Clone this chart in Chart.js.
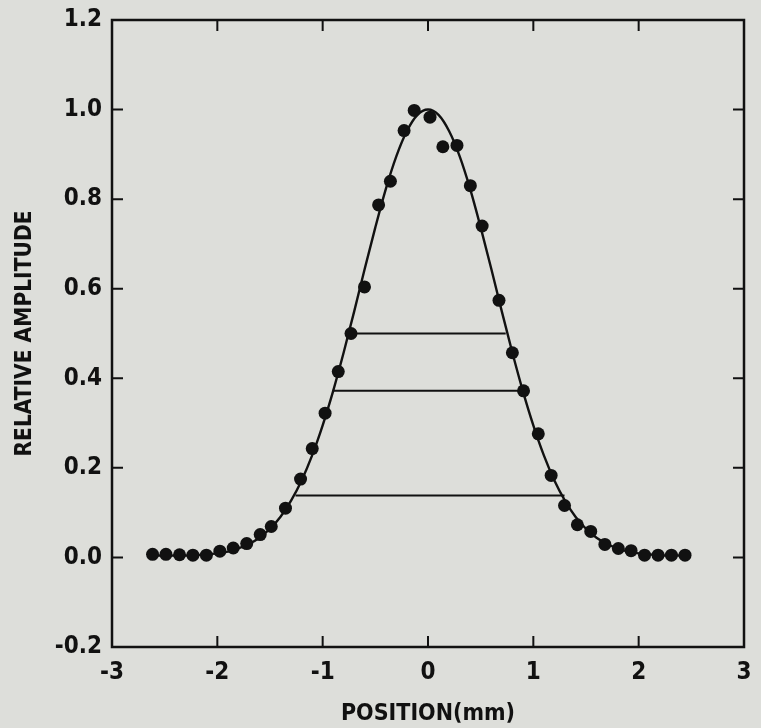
<!DOCTYPE html>
<html>
<head>
<meta charset="utf-8">
<script src="https://cdn.jsdelivr.net/npm/chart.js@4.4.1/dist/chart.umd.min.js"></script>
<style>
  html, body { margin: 0; padding: 0; background: #dddeda; }
  #wrap { width: 761px; height: 728px; }
</style>
</head>
<body>
<div id="wrap"><canvas id="mycanvas" width="761" height="728"></canvas></div>
<script>
// measured points
var dotX = [-2.615, -2.488, -2.359, -2.232, -2.104, -1.976, -1.849, -1.721, -1.593, -1.488,
            -1.353, -1.21, -1.099, -0.977, -0.852, -0.731, -0.603, -0.469, -0.357, -0.227,
            -0.131, 0.019, 0.141, 0.275, 0.402, 0.514, 0.674, 0.801, 0.907, 1.047,
            1.169, 1.296, 1.418, 1.545, 1.679, 1.807, 1.928, 2.056, 2.184, 2.311, 2.44];
var dotY = [0.007, 0.007, 0.006, 0.005, 0.005, 0.014, 0.021, 0.031, 0.051, 0.069,
            0.110, 0.175, 0.243, 0.322, 0.415, 0.500, 0.604, 0.787, 0.840, 0.953,
            0.998, 0.983, 0.917, 0.920, 0.830, 0.740, 0.574, 0.457, 0.372, 0.276,
            0.183, 0.116, 0.073, 0.058, 0.029, 0.020, 0.015, 0.005, 0.005, 0.005, 0.005];

// fitted curve
var curveX = [-2.6, -2.4, -2.2, -2.0, -1.9, -1.8, -1.7, -1.6, -1.5, -1.4, -1.3, -1.2, -1.1, -1.0,
              -0.9, -0.8, -0.7, -0.6, -0.5, -0.4, -0.3, -0.2, -0.1, 0.0, 0.1, 0.2, 0.3, 0.4,
              0.5, 0.6, 0.7, 0.8, 0.9, 1.0, 1.1, 1.2, 1.3, 1.4, 1.5, 1.6, 1.7, 1.8, 1.9, 2.0,
              2.2, 2.45];
var curveY = [0.004, 0.004, 0.005, 0.009, 0.013, 0.020, 0.030, 0.044, 0.064, 0.091, 0.127, 0.172, 0.228, 0.295,
              0.372, 0.458, 0.550, 0.645, 0.737, 0.823, 0.896, 0.952, 0.988, 1.000, 0.988, 0.952, 0.896, 0.823,
              0.737, 0.645, 0.550, 0.458, 0.372, 0.295, 0.228, 0.172, 0.127, 0.091, 0.064, 0.044, 0.030, 0.020, 0.013, 0.009,
              0.005, 0.004];

// horizontal width markers
var levelY = [0.500, 0.372, 0.138];
var levelLeft = [-0.735, -0.907, -1.258];
var levelRight = [0.738, 0.907, 1.296];

var xTicks = [-3, -2, -1, 0, 1, 2, 3];
var yTicks = [-0.2, 0.0, 0.2, 0.4, 0.6, 0.8, 1.0, 1.2];

var fontFam = "'DejaVu Sans Condensed', 'Liberation Sans Narrow', Arial, sans-serif";

var datasets = [];
datasets.push({
	label: "data",
	data: dotX.map(function(x, i){ return {x: x, y: dotY[i]}; }),
	showLine: false,
	pointRadius: 6.5,
	pointBackgroundColor: "#111",
	pointBorderWidth: 0,
	order: 0
});
datasets.push({
	label: "fit",
	data: curveX.map(function(x, i){ return {x: x, y: curveY[i]}; }),
	showLine: true,
	pointRadius: 0,
	borderColor: "#111",
	borderWidth: 2.4,
	cubicInterpolationMode: "monotone",
	order: 1
});
for (var i = 0; i < levelY.length; i++) {
	datasets.push({
		label: "level" + i,
		data: [{x: levelLeft[i], y: levelY[i]}, {x: levelRight[i], y: levelY[i]}],
		showLine: true,
		pointRadius: 0,
		borderColor: "#111",
		borderWidth: 2,
		order: 1
	});
}

// frame + inward ticks on all four sides
var frameTicks = {
	id: "frameTicks",
	afterDatasetsDraw: function(chart) {
		var c = chart.ctx, a = chart.chartArea;
		var xs = chart.scales.x, ys = chart.scales.y;
		var len = 11;
		c.save();
		c.strokeStyle = "#111";
		c.lineWidth = 2.5;
		c.strokeRect(a.left, a.top, a.right - a.left, a.bottom - a.top);
		c.lineWidth = 2;
		c.beginPath();
		xTicks.forEach(function(v, k){
			if (k === 0 || k === xTicks.length - 1) return;
			var px = xs.getPixelForValue(v);
			c.moveTo(px, a.bottom); c.lineTo(px, a.bottom - len);
			c.moveTo(px, a.top); c.lineTo(px, a.top + len);
		});
		yTicks.forEach(function(v, k){
			if (k === 0 || k === yTicks.length - 1) return;
			var py = ys.getPixelForValue(v);
			c.moveTo(a.left, py); c.lineTo(a.left + len, py);
			c.moveTo(a.right, py); c.lineTo(a.right - len, py);
		});
		c.stroke();
		c.restore();
	}
};

var ctx = document.getElementById("mycanvas");
var chart = new Chart(ctx, {
	type: "scatter",
	data: { datasets: datasets },
	plugins: [frameTicks],
	options: {
		responsive: false,
		animation: false,
		layout: { padding: { left: 0, right: 17, top: 20, bottom: 0 } },
		plugins: { legend: { display: false }, tooltip: { enabled: false } },
		scales: {
			x: {
				type: "linear",
				min: -3, max: 3,
				afterBuildTicks: function(s){ s.ticks = xTicks.map(function(v){ return {value: v}; }); },
				afterFit: function(s){ s.height = 81; s.paddingLeft = 0; s.paddingRight = 0; },
				grid: { display: false, drawTicks: false },
				border: { display: false },
				ticks: {
					color: "#111",
					padding: 11,
					font: { family: fontFam, size: 24, weight: "bold" },
					callback: function(v){ return String(v); }
				},
				title: {
					display: true,
					text: "POSITION(mm)",
					color: "#111",
					padding: { top: 4, bottom: 0 },
					font: { family: fontFam, size: 23, weight: "bold" }
				}
			},
			y: {
				type: "linear",
				min: -0.2, max: 1.2,
				afterBuildTicks: function(s){ s.ticks = yTicks.map(function(v){ return {value: v}; }); },
				afterFit: function(s){ s.width = 112; s.paddingTop = 0; s.paddingBottom = 0; },
				grid: { display: false, drawTicks: false },
				border: { display: false },
				ticks: {
					color: "#111",
					padding: 10,
					font: { family: fontFam, size: 24, weight: "bold" },
					callback: function(v){ return Number(v).toFixed(1); }
				},
				title: {
					display: true,
					text: "RELATIVE AMPLITUDE",
					color: "#111",
					padding: { top: 12, bottom: 0 },
					font: { family: fontFam, size: 22.5, weight: "bold" }
				}
			}
		}
	}
});
</script>
</body>
</html>
